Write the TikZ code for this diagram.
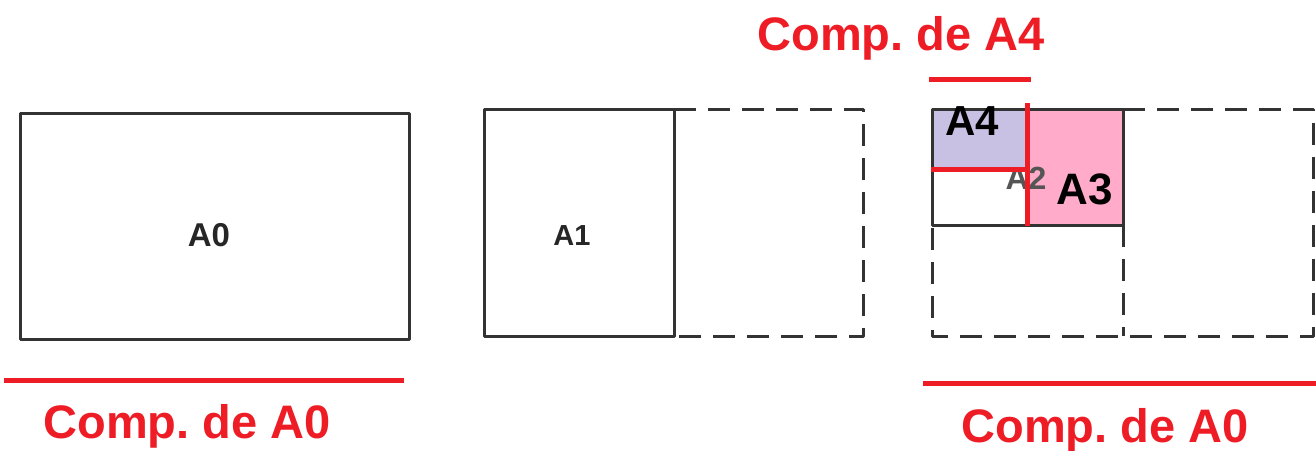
\documentclass[tikz,border=0pt]{standalone}
\usepackage{fontspec}
\setmainfont{Liberation Sans}
\frenchspacing
\definecolor{redc}{HTML}{EE1C25}
\definecolor{boxc}{HTML}{333333}
\definecolor{lav}{HTML}{C9C1E3}
\definecolor{pinkc}{HTML}{FFABC9}
\definecolor{graytext}{HTML}{555555}
\tikzset{
  solidbox/.style={draw=boxc,line width=3pt,line join=round},
  dashbox/.style={draw=boxc,line width=3pt,dash pattern=on 22pt off 12pt,line join=round},
  redline/.style={draw=redc,line width=5pt},
  redlabel/.style={text=redc,font=\bfseries\fontsize{47}{50}\selectfont,inner sep=0pt,anchor=base},
  sheetlabel/.style={text=black!85,font=\bfseries\fontsize{#1}{#1}\selectfont,inner sep=0pt},
  sheetlabel/.default=30
}
\begin{document}
\begin{tikzpicture}[x=1pt,y=-1pt]
\useasboundingbox (0,0) rectangle (1316,450);
% fills
\fill[lav] (932,109) rectangle (1027,169);
\fill[pinkc] (1027,109) rectangle (1123,225);
% group 1
\draw[solidbox] (20,113) rectangle (409,339);
\node[sheetlabel=33] (a0) at (209,235) {A0};
% group 2
\draw[solidbox] (484,109) rectangle (674,336);
\draw[dashbox] (674,109) -- (863,109) -- (863,336) -- (674,336);
\node[sheetlabel=29] (a1) at (572,236) {A1};
% group 3
\draw[dashbox] (1123,109) -- (1313,109) -- (1313,336) -- (932,336) -- (932,225);
\draw[dashbox] (1123,225) -- (1123,336);
\draw[solidbox] (932,109) rectangle (1123,225);
\node[sheetlabel=32,text=graytext] (a2) at (1026,178) {A2};
% red lines
\coordinate (t1) at (929,79); \coordinate (t2) at (1031,79);
\draw[redline] (t1) -- (t2);
\coordinate (v1) at (1027,103); \coordinate (v2) at (1027,226);
\draw[redline] (v1) -- (v2);
\coordinate (h1) at (931,169); \coordinate (h2) at (1027,169);
\draw[redline] (h1) -- (h2);
\coordinate (bl1) at (4,380); \coordinate (bl2) at (404,380);
\draw[redline] (bl1) -- (bl2);
\coordinate (br1) at (923,383); \coordinate (br2) at (1316,383);
\draw[redline] (br1) -- (br2);
% big labels
\node[sheetlabel=42,text=black] (a4) at (972,121) {A4};
\node[sheetlabel=44,text=black] (a3) at (1085,189) {A3};
% red labels
\node[redlabel] (ca4) at (901,50) {Comp. de A4};
\node[redlabel] (ca0l) at (187,438) {Comp. de A0};
\node[redlabel] (ca0r) at (1105,442) {Comp. de A0};
\end{tikzpicture}
\end{document}
